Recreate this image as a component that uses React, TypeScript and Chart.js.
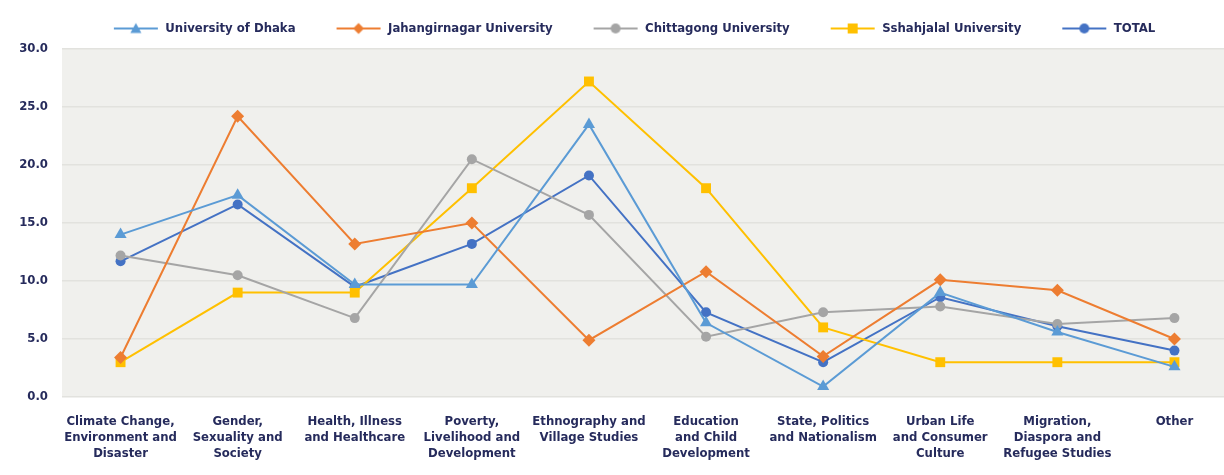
import React, { useEffect, useRef } from "react";
import { Chart, registerables } from "chart.js";

Chart.register(...registerables);

const categories: string[][] = [
  ["Climate Change,", "Environment and", "Disaster"],
  ["Gender,", "Sexuality and", "Society"],
  ["Health, Illness", "and Healthcare"],
  ["Poverty,", "Livelihood and", "Development"],
  ["Ethnography and", "Village Studies"],
  ["Education", "and Child", "Development"],
  ["State, Politics", "and Nationalism"],
  ["Urban Life", "and Consumer", "Culture"],
  ["Migration,", "Diaspora and", "Refugee Studies"],
  ["Other"],
];

const dhaka = [14.0, 17.4, 9.7, 9.7, 23.5, 6.4, 0.9, 9.0, 5.6, 2.6];
const jahangirnagar = [3.4, 24.2, 13.2, 15.0, 4.9, 10.8, 3.5, 10.1, 9.2, 5.0];
const chittagong = [12.2, 10.5, 6.8, 20.5, 15.7, 5.2, 7.3, 7.8, 6.3, 6.8];
const shahjalal = [3.0, 9.0, 9.0, 18.0, 27.2, 18.0, 6.0, 3.0, 3.0, 3.0];
const total = [11.7, 16.6, 9.5, 13.2, 19.1, 7.3, 3.0, 8.6, 6.1, 4.0];

const yTicks = [0, 5, 10, 15, 20, 25, 30];

const FONT = "'Liberation Sans Narrow', 'DejaVu Sans Condensed', 'Roboto', sans-serif";
const TEXT = "#262b5c";

const IMG_W = 76;

function legendImage(color: string, style: string): HTMLCanvasElement {
  const c = document.createElement("canvas");
  c.width = IMG_W;
  c.height = 16;
  const ctx = c.getContext("2d")!;
  ctx.strokeStyle = color;
  ctx.lineWidth = 2;
  ctx.beginPath();
  ctx.moveTo(31, 8);
  ctx.lineTo(75, 8);
  ctx.stroke();
  ctx.fillStyle = color;
  ctx.beginPath();
  const cx = 53, cy = 8, r = 5.5;
  if (style === "triangle") {
    ctx.moveTo(cx, cy - r);
    ctx.lineTo(cx + r, cy + r * 0.8);
    ctx.lineTo(cx - r, cy + r * 0.8);
    ctx.closePath();
  } else if (style === "rectRot") {
    ctx.moveTo(cx, cy - r);
    ctx.lineTo(cx + r, cy);
    ctx.lineTo(cx, cy + r);
    ctx.lineTo(cx - r, cy);
    ctx.closePath();
  } else if (style === "rect") {
    ctx.rect(cx - 5, cy - 5, 10, 10);
  } else {
    ctx.arc(cx, cy, 5, 0, Math.PI * 2);
  }
  ctx.fill();
  return c;
}

const plotBg = {
  id: "plotBg",
  afterInit(chart: any) {
    const lg = chart.legend;
    if (lg) {
      const f = lg.fit;
      lg.fit = function () {
        f.call(this);
        this.height += 4;
      };
    }
  },
  beforeDraw(chart: any) {
    const { ctx, chartArea } = chart;
    ctx.save();
    ctx.fillStyle = "#f0f0ed";
    ctx.fillRect(chartArea.left, chartArea.top, chart.width - chartArea.left, chartArea.bottom - chartArea.top);
    ctx.restore();
  },
};

const markerRadius: Record<string, number> = { triangle: 7, rectRot: 6.5, circle: 5, rect: 7 };

export default function App() {
  const ref = useRef<HTMLCanvasElement>(null);
  useEffect(() => {
    document.body.style.margin = "0";
    document.documentElement.style.overflow = "hidden";
    document.body.style.overflow = "hidden";
    const series = [
      { label: "University of Dhaka", data: dhaka, color: "#5b9bd5", style: "triangle" },
      { label: "Jahangirnagar University", data: jahangirnagar, color: "#ed7d31", style: "rectRot" },
      { label: "Chittagong University", data: chittagong, color: "#a5a5a5", style: "circle" },
      { label: "Sshahjalal University", data: shahjalal, color: "#ffc000", style: "rect" },
      { label: "TOTAL", data: total, color: "#4472c4", style: "circle" },
    ];
    const images = series.map((s) => legendImage(s.color, s.style));
    const chart = new Chart(ref.current!, {
      type: "line",
      data: {
        labels: categories,
        datasets: series.map((s) => ({
          label: s.label,
          data: s.data,
          borderColor: s.color,
          backgroundColor: s.color,
          borderWidth: 2,
          pointStyle: s.style as any,
          pointRadius: markerRadius[s.style],
          pointBorderWidth: 0,
          fill: false,
          tension: 0,
        })),
      },
      options: {
        animation: false,
        responsive: false,
        maintainAspectRatio: false,
        layout: { padding: { left: 0, right: 2, top: 12, bottom: 0 } },
        plugins: {
          tooltip: { enabled: false },
          legend: {
            position: "top",
            labels: {
              usePointStyle: true,
              pointStyleWidth: IMG_W,
              padding: 10,
              color: TEXT,
              font: { family: FONT, size: 13, weight: "bold" },
              generateLabels: (chart: any) => {
                const items = Chart.defaults.plugins.legend.labels.generateLabels(chart);
                return items.map((it: any, i: number) => ({ ...it, pointStyle: images[i] }));
              },
            },
          },
        },
        scales: {
          x: {
            offset: true,
            grid: { display: false, drawTicks: false },
            border: { display: false },
            ticks: {
              color: TEXT,
              padding: 16,
              maxRotation: 0,
              autoSkip: false,
              font: { family: FONT, size: 13, weight: "bold", lineHeight: 1.25 },
            },
            afterFit: (scale: any) => {
              scale.height = 78;
            },
          },
          y: {
            min: 0,
            max: 30,
            grid: { color: "#e2e2de", lineWidth: 1.5, drawTicks: false },
            border: { display: false },
            afterBuildTicks: (scale: any) => {
              scale.ticks = yTicks.map((v) => ({ value: v }));
            },
            ticks: {
              color: TEXT,
              padding: 14,
              font: { family: FONT, size: 13, weight: "bold" },
              callback: (v: any) => Number(v).toFixed(1),
            },
            afterFit: (scale: any) => {
              scale.width = 62;
            },
          },
        },
      },
      plugins: [plotBg],
    });
    return () => chart.destroy();
  }, []);
  return (
    <div style={{ width: 1240, height: 475 }}>
      <canvas ref={ref} width={1240} height={475} style={{ display: "block" }} />
    </div>
  );
}
